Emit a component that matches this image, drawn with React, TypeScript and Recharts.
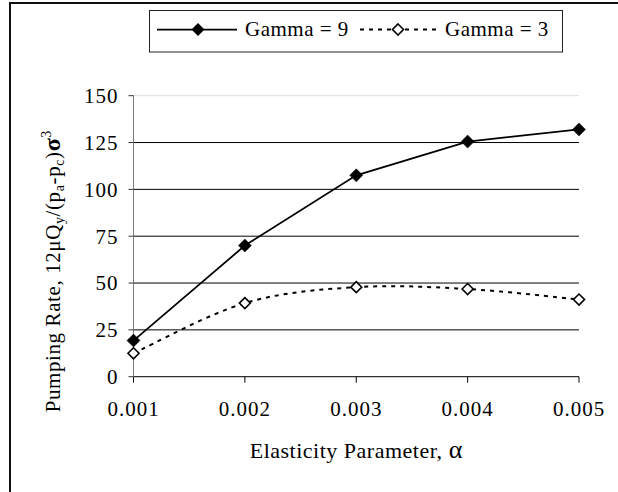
import React from 'react';
import { LineChart, Line, XAxis, YAxis, CartesianGrid, Legend, ReferenceLine } from 'recharts';

const alphas = ['0.001', '0.002', '0.003', '0.004', '0.005'];
const gamma9 = [19.3, 70, 107.5, 125.5, 132];
const gamma3 = [12.5, 39.3, 47.8, 46.8, 41.2];
const yTicks = [0, 25, 50, 75, 100, 125, 150];
const gridValues = [25, 50, 75, 100, 125];

const data = alphas.map((a, i) => ({ alpha: a, g9: gamma9[i], g3: gamma3[i] }));

const FONT = '"Liberation Serif", "Times New Roman", serif';

// Excel-like smoothed line (Catmull-Rom as cubic Bezier)
function excelSmooth(context: any) {
  let pts: number[][] = [];
  return {
    areaStart() {},
    areaEnd() {},
    lineStart() { pts = []; },
    lineEnd() {
      if (!pts.length) return;
      context.moveTo(pts[0][0], pts[0][1]);
      for (let i = 0; i < pts.length - 1; i++) {
        const p0 = pts[i - 1] || pts[i];
        const p1 = pts[i];
        const p2 = pts[i + 1];
        const p3 = pts[i + 2] || p2;
        const c1x = p1[0] + (p2[0] - p0[0]) / 6;
        const c1y = p1[1] + (p2[1] - p0[1]) / 6;
        const c2x = p2[0] - (p3[0] - p1[0]) / 6;
        const c2y = p2[1] - (p3[1] - p1[1]) / 6;
        context.bezierCurveTo(c1x, c1y, c2x, c2y, p2[0], p2[1]);
      }
    },
    point(x: number, y: number) { pts.push([+x, +y]); },
  };
}

const FilledDiamond = (props: any) => {
  const { cx, cy, index } = props;
  if (cx == null || cy == null) return null;
  const r = 6.5;
  return <path key={`f${index}`} d={`M${cx},${cy - r}L${cx + r},${cy}L${cx},${cy + r}L${cx - r},${cy}Z`} fill="#000" stroke="#000" strokeWidth={0.5} />;
};

const HollowDiamond = (props: any) => {
  const { cx, cy, index } = props;
  if (cx == null || cy == null) return null;
  const r = 5.5;
  return <path key={`h${index}`} d={`M${cx},${cy - r}L${cx + r},${cy}L${cx},${cy + r}L${cx - r},${cy}Z`} fill="#fff" stroke="#000" strokeWidth={1.6} />;
};

const renderLegend = (props: any) => {
  const payload = props.payload || [];
  const g9 = payload.find((p: any) => p.dataKey === 'g9');
  const g3 = payload.find((p: any) => p.dataKey === 'g3');
  return (
    <svg width={414} height={43} style={{ display: 'block' }}>
      <rect x={0.5} y={0.5} width={413} height={41.5} fill="#fff" stroke="#222" strokeWidth={1} />
      <line x1={8} y1={19.5} x2={88} y2={19.5} stroke="#000" strokeWidth={1.75} />
      <path d="M49,13L55.5,19.5L49,26L42.5,19.5Z" fill="#000" />
      <text x={96} y={26} fontFamily={FONT} fontSize={21} letterSpacing={0.5} fill="#000">{g9 ? g9.value : ''}</text>
      <line x1={211} y1={19.5} x2={288} y2={19.5} stroke="#000" strokeWidth={2} strokeDasharray="4 5" />
      <path d="M249,14L254.5,19.5L249,25L243.5,19.5Z" fill="#fff" stroke="#000" strokeWidth={1.6} />
      <text x={296} y={26} fontFamily={FONT} fontSize={21} letterSpacing={0.5} fill="#000">{g3 ? g3.value : ''}</text>
    </svg>
  );
};

const YLabel = (props: any) => {
  const vb = props.viewBox || { x: 0, y: 0, width: 0, height: 0 };
  const x = vb.x - 13.5;
  const y = vb.y + vb.height / 2 + 35;
  return (
    <text x={x} y={y} transform={`rotate(-90, ${x}, ${y})`} textAnchor="middle" fontFamily={FONT} fontSize={21} fill="#000" letterSpacing={0.6}>
      <tspan>Pumping Rate, 12μQ</tspan>
      <tspan fontSize={14} dy={4}>y</tspan>
      <tspan dy={-4}>/(p</tspan>
      <tspan fontSize={14} dy={4}>a</tspan>
      <tspan dy={-4}>-p</tspan>
      <tspan fontSize={14} dy={4}>c</tspan>
      <tspan dy={-4}>)</tspan>
      <tspan fontSize={24} fontWeight="bold">σ</tspan>
      <tspan fontSize={14} dy={-9}>3</tspan>
    </text>
  );
};

const XLabel = (props: any) => {
  const vb = props.viewBox || { x: 0, y: 0, width: 0, height: 0 };
  const x = vb.x + vb.width / 2;
  const y = vb.y + 81;
  return (
    <text x={x} y={y} textAnchor="middle" fontFamily={FONT} fontSize={22} fill="#000" letterSpacing={0.5}>
      Elasticity Parameter, <tspan fontSize={26}>α</tspan>
    </text>
  );
};

export default function App() {
  return (
    <div style={{ position: 'absolute', left: 0, top: 0, width: 618, height: 492, overflow: 'hidden', background: '#fff' }}>
      <div style={{ position: 'absolute', left: 9, top: 2, width: 700, height: 600, borderLeft: '2px solid #111', borderTop: '2px solid #111' }} />
      <div style={{ position: 'absolute', left: 0, top: 0 }}>
        <LineChart width={618} height={492} data={data} margin={{ top: 95.7, right: 39, bottom: 85.3, left: 73.5 }}>
          <CartesianGrid vertical={false} horizontalValues={gridValues} stroke="#000" strokeWidth={1} />
          <ReferenceLine y={150} stroke="#dcdcdc" strokeWidth={1} />
          <XAxis
            dataKey="alpha"
            height={30}
            tickSize={6}
            tickMargin={18}
            stroke="#000"
            tickLine={{ stroke: '#000' }}
            tick={{ fontFamily: FONT, fontSize: 21, fill: '#000', letterSpacing: 1 }}
            label={<XLabel />}
            interval={0}
          />
          <YAxis
            width={60}
            domain={[0, 150]}
            ticks={yTicks}
            tickSize={5}
            tickMargin={10}
            stroke="#7a7a7a"
            tickLine={{ stroke: '#333' }}
            tick={{ fontFamily: FONT, fontSize: 21, fill: '#000', letterSpacing: 1 }}
            label={<YLabel />}
            interval={0}
          />
          <Legend layout="vertical" align="center" verticalAlign="middle" content={renderLegend} wrapperStyle={{ left: 149, top: 10, width: 414, height: 43 }} />
          <Line dataKey="g9" name="Gamma = 9" type="linear" stroke="#000" strokeWidth={1.75} dot={<FilledDiamond />} activeDot={false} isAnimationActive={false} />
          <Line dataKey="g3" name="Gamma = 3" type={excelSmooth as any} stroke="#000" strokeWidth={2} strokeDasharray="4 5" dot={<HollowDiamond />} activeDot={false} isAnimationActive={false} />
        </LineChart>
      </div>
    </div>
  );
}
